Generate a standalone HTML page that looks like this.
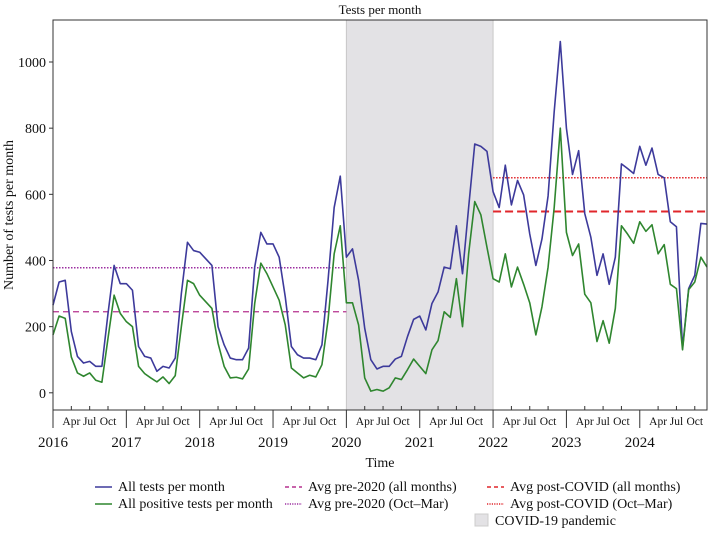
<!DOCTYPE html>
<html><head><meta charset="utf-8"><style>
body{margin:0;background:#fff;font-family:"Liberation Serif","DejaVu Serif","Noto Serif CJK SC",serif;}
svg text{fill:#111;font-family:"Liberation Serif","DejaVu Serif","Noto Serif CJK SC",serif;}
</style></head><body>
<svg id="chart" width="708" height="529" xmlns="http://www.w3.org/2000/svg"></svg>
<script>
const years=[2016,2017,2018,2019,2020,2021,2022,2023,2024];
const yTicks=[0,200,400,600,800,1000];
const allTests=[265,335,340,185,110,90,95,80,80,240,385,330,
330,310,140,110,105,65,80,75,105,300,455,430,
425,405,385,200,145,105,100,100,135,380,485,450,
450,410,290,140,115,105,105,100,145,340,560,655,
410,435,340,195,100,72,80,80,102,110,170,222,
232,190,270,305,380,375,505,360,560,752,745,730,
608,560,688,568,642,598,480,385,465,595,850,1062,
800,660,732,542,470,355,420,328,410,692,678,663,
745,688,740,660,650,517,502,135,315,355,512,510];
const posTests=[175,232,225,108,60,50,60,38,32,165,295,240,
215,200,80,58,45,33,48,28,52,200,340,330,
295,275,255,150,80,45,47,42,72,270,392,360,
320,280,205,75,60,45,53,48,85,220,420,505,
272,272,205,45,5,10,5,15,45,40,70,102,
80,58,130,158,245,228,345,200,420,578,538,440,
345,335,420,320,380,328,272,175,260,380,560,800,
485,415,450,298,272,155,218,150,255,505,480,452,
517,488,508,420,448,328,315,130,312,335,410,380];
const avgPreAll=245, avgPreWinter=378, avgPostAll=548, avgPostWinter=650;
const covidStart=2020, covidEnd=2022;

const svg=document.getElementById('chart');
const NS='http://www.w3.org/2000/svg';
const L=53,R=707,T=20,B=410;
const yMin=-52,yMax=1127;
const y=v=>B-(v-yMin)/(yMax-yMin)*(B-T);
const nM=allTests.length;
const xm=i=>L+i*(R-L)/(nM-1);
const xt=t=>xm((t-2016)*12);
function el(tag,attrs,parent){const e=document.createElementNS(NS,tag);for(const k in attrs)e.setAttribute(k,attrs[k]);(parent||svg).appendChild(e);return e;}

const sh=el('rect',{x:xt(covidStart),y:T,width:xt(covidEnd)-xt(covidStart),height:B-T,fill:'#e3e2e5',stroke:'#c8c8c8','stroke-width':1});



function hline(v,x1,x2,color,dash,w,name){const l=el('line',{x1:x1,x2:x2,y1:y(v),y2:y(v),stroke:color,'stroke-dasharray':dash,'stroke-width':w});

}
hline(avgPreAll,L,xt(2020),'#b5318f','6,4',1.3,'avg-pre-2020-all');
hline(avgPreWinter,L,xt(2020),'#9c2fa0','1.5,1.5',1.5,'avg-pre-2020-oct-mar');
hline(avgPostAll,xt(2022),R,'#e0262b','8,4',2,'avg-post-covid-all');
hline(avgPostWinter,xt(2022),R,'#e0262b','1.5,1.5',1.5,'avg-post-covid-oct-mar');

function series(vals,color,name){const p=el('polyline',{points:vals.map((v,i)=>xm(i)+','+y(v)).join(' '),fill:'none',stroke:color,'stroke-width':1.6,'stroke-linejoin':'round'});

}
series(allTests,'#3d3a9b','all-tests-line');
series(posTests,'#2f862f','positive-tests-line');

const fr=el('rect',{x:L,y:T,width:R-L,height:B-T,fill:'none',stroke:'#333','stroke-width':1});



yTicks.forEach(v=>{el('line',{x1:L-4,x2:L,y1:y(v),y2:y(v),stroke:'#333'});
const t=el('text',{x:L-7,y:y(v)+5,'text-anchor':'end','font-size':14});t.textContent=v;

});
const yt=el('text',{x:13,y:(T+B)/2,'text-anchor':'middle','font-size':14,transform:`rotate(-90 13 ${(T+B)/2})`});yt.textContent='Number of tests per month';



years.forEach(yr=>{const x0=xt(yr);el('line',{x1:x0,x2:x0,y1:B,y2:428,stroke:'#333'});
['Apr','Jul','Oct'].forEach((m,k)=>{const xx=xt(yr+(3+3*k)/12);el('line',{x1:xx,x2:xx,y1:B-4,y2:B,stroke:'#333'});
const t=el('text',{x:xx,y:425,'text-anchor':'middle','font-size':11.5});t.textContent=m;

});
const t=el('text',{x:x0,y:447,'text-anchor':'middle','font-size':15});t.textContent=yr;

});
const xtitle=el('text',{x:380,y:467,'text-anchor':'middle','font-size':14});xtitle.textContent='Time';


const title=el('text',{x:380,y:14,'text-anchor':'middle','font-size':13});title.textContent='Tests per month';



const leg=[[95,491,'#3d3a9b',null,'All tests per month','legend-all-tests'],
[95,508,'#2f862f',null,'All positive tests per month','legend-positive-tests'],
[285,491,'#b5318f','4,3','Avg pre-2020 (all months)','legend-avg-pre-all'],
[285,508,'#9c2fa0','1.2,1.2','Avg pre-2020 (Oct–Mar)','legend-avg-pre-winter'],
[487,491,'#e0262b','4,3','Avg post-COVID (all months)','legend-avg-post-all'],
[487,508,'#e0262b','1.2,1.2','Avg post-COVID (Oct–Mar)','legend-avg-post-winter']];
leg.forEach(([x0,yy,c,d,label,name])=>{const g=el('g',{});


const a={x1:x0,x2:x0+17,y1:yy-4,y2:yy-4,stroke:c,'stroke-width':1.6};if(d)a['stroke-dasharray']=d;el('line',a,g);
const t=el('text',{x:x0+23,y:yy,'font-size':14},g);t.textContent=label;});
const gc=el('g',{});


el('rect',{x:475,y:514,width:13,height:12,fill:'#e3e2e5',stroke:'#ccc'},gc);
const tc=el('text',{x:495,y:525,'font-size':14},gc);tc.textContent='COVID-19 pandemic';
</script>
</body></html>
